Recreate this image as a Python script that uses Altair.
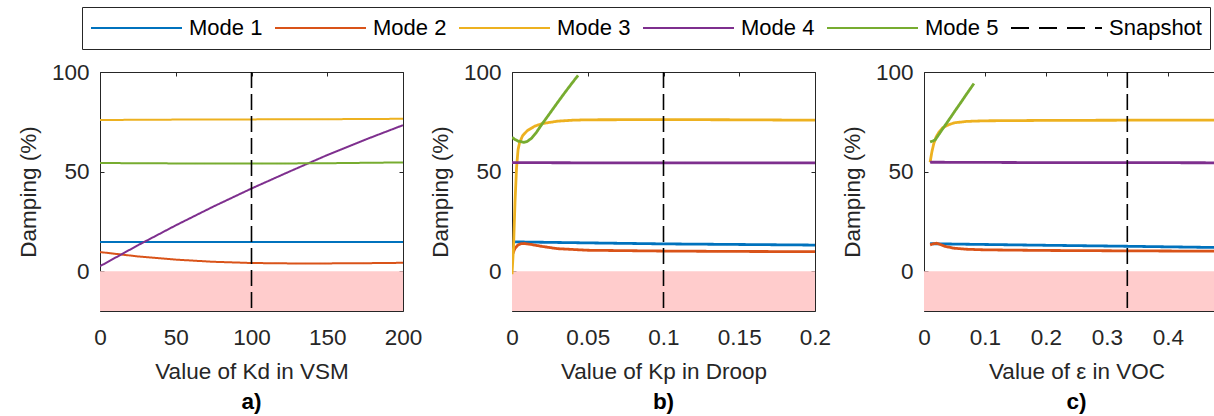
import altair as alt
import pandas as pd

SERIES = ["Mode 1", "Mode 2", "Mode 3", "Mode 4", "Mode 5", "Snapshot"]
COLORS = ["#0072BD", "#D95319", "#EDB120", "#7E2F8E", "#77AC30", "#000000"]
DASHES = [[1, 0], [1, 0], [1, 0], [1, 0], [1, 0], [18, 10]]

Y_DOMAIN = [-20, 100]
Y_TICKS = [0, 50, 100]
Y_TITLE = "Damping (%)"

# ---- panel a: Kd in VSM ----
A_TITLE = "Value of Kd in VSM"
A_LABEL = "a)"
A_DOMAIN = [0, 200]
A_TICKS = [0, 50, 100, 150, 200]
A_SNAPSHOT = 100
A_X = [0, 25, 50, 75, 100, 125, 150, 175, 200]
A_MODE1 = [14.6, 14.6, 14.6, 14.6, 14.6, 14.6, 14.6, 14.6, 14.6]
A_MODE2 = [9.6, 7.4, 5.8, 4.7, 4.1, 3.9, 3.9, 4.0, 4.2]
A_MODE3 = [75.9, 76.0, 76.1, 76.2, 76.2, 76.3, 76.3, 76.4, 76.5]
A_MODE4 = [2.5, 13.0, 23.0, 32.5, 41.5, 50.0, 58.3, 66.0, 73.3]
A_MODE5 = [54.3, 54.2, 54.1, 54.0, 54.0, 54.1, 54.2, 54.4, 54.6]

# ---- panel b: Kp in Droop ----
B_TITLE = "Value of Kp in Droop"
B_LABEL = "b)"
B_DOMAIN = [0, 0.2]
B_TICKS = [0, 0.05, 0.1, 0.15, 0.2]
B_SNAPSHOT = 0.1
B_MODE1_X = [0.002, 0.05, 0.1, 0.15, 0.2]
B_MODE1 = [14.7, 14.2, 13.7, 13.4, 13.1]
B_MODE2_X = [0, 0.002, 0.004, 0.006, 0.008, 0.012, 0.02, 0.03, 0.05, 0.1, 0.15, 0.2]
B_MODE2 = [7.8, 11.5, 13.2, 13.8, 13.9, 13.5, 12.4, 11.3, 10.5, 10.1, 9.9, 9.8]
B_MODE3_X = [0, 0.001, 0.002, 0.003, 0.004, 0.005, 0.007, 0.01, 0.015, 0.02, 0.03, 0.04, 0.05, 0.1, 0.15, 0.2]
B_MODE3 = [-1.5, 12.0, 35.0, 52.0, 61.0, 64.5, 68.0, 70.5, 72.8, 74.1, 75.3, 75.8, 76.0, 76.1, 76.0, 75.8]
B_MODE4_X = [0, 0.05, 0.1, 0.15, 0.2]
B_MODE4 = [54.5, 54.4, 54.4, 54.4, 54.4]
B_MODE5_X = [0, 0.002, 0.004, 0.0077, 0.01, 0.013, 0.016, 0.0194, 0.025, 0.03, 0.035, 0.04, 0.0436]
B_MODE5 = [67.2, 66.1, 65.3, 64.7, 65.1, 66.8, 69.6, 73.4, 79.3, 84.6, 89.8, 94.8, 98.3]

# ---- panel c: epsilon in VOC ----
C_TITLE = "Value of ε in VOC"
C_LABEL = "c)"
C_DOMAIN = [0, 0.5]
C_TICKS = [0, 0.1, 0.2, 0.3, 0.4]
C_SNAPSHOT = 0.3333
C_MODE1_X = [0.01, 0.05, 0.1, 0.2, 0.3333, 0.5]
C_MODE1 = [13.8, 13.6, 13.4, 13.0, 12.5, 11.8]
C_MODE2_X = [0.01, 0.015, 0.02, 0.025, 0.035, 0.05, 0.07, 0.1, 0.2, 0.3333, 0.5]
C_MODE2 = [13.2, 13.7, 14.0, 13.6, 12.4, 11.5, 11.0, 10.7, 10.4, 10.2, 10.0]
C_MODE3_X = [0.01, 0.013, 0.016, 0.02, 0.025, 0.03, 0.04, 0.05, 0.07, 0.1, 0.2, 0.3333, 0.5]
C_MODE3 = [54.7, 60.0, 64.0, 67.5, 70.0, 71.8, 73.5, 74.5, 75.2, 75.5, 75.7, 75.8, 75.8]
C_MODE4_X = [0.01, 0.1, 0.2, 0.3333, 0.5]
C_MODE4 = [54.7, 54.6, 54.5, 54.5, 54.4]
C_MODE5_X = [0.01, 0.014, 0.0182, 0.025, 0.03, 0.04, 0.05, 0.06, 0.07, 0.0818]
C_MODE5 = [64.9, 65.3, 65.9, 68.9, 71.2, 75.6, 80.1, 84.5, 89.0, 94.2]

FONT = "Liberation Sans"
TXT = "#262626"
SHADE = "#FFCCCC"
FS = 22.5


def long_table(xs_list, ys_list):
    rows = []
    for name, xs, ys in zip(SERIES[:5], xs_list, ys_list):
        for x, y in zip(xs, ys):
            rows.append({"series": name, "x": x, "y": y})
    return pd.DataFrame(rows)


LEGEND = alt.Legend(
    title=None, orient="none", legendX=-18, legendY=-65, direction="horizontal",
    symbolType="stroke", symbolSize=8281, symbolStrokeWidth=2, clipHeight=26,
    labelFontSize=22, labelFont=FONT, labelColor="#000000", labelOffset=6,
    columnPadding=11, padding=8, strokeColor="#262626", fillColor="#FFFFFF",
)


def panel(df, snap, domain, ticks, xtitle, label, fmt, width, lw):
    x_scale = alt.Scale(domain=domain, nice=False, zero=False)
    y_scale = alt.Scale(domain=Y_DOMAIN, nice=False, zero=False)
    color = alt.Color("series:N", scale=alt.Scale(domain=SERIES, range=COLORS), legend=LEGEND)
    dash = alt.StrokeDash("series:N", scale=alt.Scale(domain=SERIES, range=DASHES), legend=LEGEND)

    bottom = alt.Axis(values=ticks, format=fmt, offset=-4, tickSize=4, domain=False, grid=False,
                      tickColor=TXT, labelColor=TXT, labelFontSize=FS, labelPadding=15,
                      labelFlush=False, labelOverlap=False, title=xtitle, titleFontSize=FS,
                      titleFontWeight="normal", titleColor=TXT, titlePadding=12)
    left = alt.Axis(values=Y_TICKS, offset=-4, tickSize=4, domain=False, grid=False,
                    tickColor=TXT, labelColor=TXT, labelFontSize=FS, labelPadding=11,
                    labelFlush=False, labelOverlap=False, title=Y_TITLE, titleFontSize=FS,
                    titleFontWeight="normal", titleColor=TXT, titlePadding=11)
    top = alt.Axis(orient="top", values=ticks, offset=-4, tickSize=4, domain=False, grid=False,
                   tickColor=TXT, labels=False, title=None)
    right = alt.Axis(orient="right", values=Y_TICKS, offset=-4, tickSize=4, domain=False,
                     grid=False, tickColor=TXT, labels=False, title=None)

    shade_df = pd.DataFrame({"x": [domain[0]], "x2": [domain[1]],
                             "y": [0], "y2": [Y_DOMAIN[0]]})
    shade = alt.Chart(shade_df).mark_rect(color=SHADE, opacity=1).encode(
        x=alt.X("x:Q", scale=x_scale, axis=bottom),
        x2="x2:Q",
        y=alt.Y("y:Q", scale=y_scale, axis=left),
        y2="y2:Q",
    )
    lines = alt.Chart(df).mark_line(strokeWidth=lw, clip=True).encode(
        x=alt.X("x:Q", scale=x_scale, axis=top),
        y=alt.Y("y:Q", scale=y_scale, axis=right),
        color=color,
        strokeDash=dash,
    )
    snap_df = pd.DataFrame({"x": [snap], "series": ["Snapshot"]})
    rule = alt.Chart(snap_df).mark_rule(strokeWidth=1.6, strokeDash=[16, 6]).encode(
        x=alt.X("x:Q", scale=x_scale, axis=None),
        color=color,
    )
    return alt.layer(shade, lines, rule).resolve_axis(
        x="independent", y="independent"
    ).properties(
        width=width, height=239,
        title=alt.TitleParams(label, orient="bottom", fontSize=FS, fontWeight="bold",
                              color="#000000", offset=8, frame="group", anchor="middle"),
    )


df_a = long_table([A_X] * 5, [A_MODE1, A_MODE2, A_MODE3, A_MODE4, A_MODE5])
df_b = long_table([B_MODE1_X, B_MODE2_X, B_MODE3_X, B_MODE4_X, B_MODE5_X],
                  [B_MODE1, B_MODE2, B_MODE3, B_MODE4, B_MODE5])
df_c = long_table([C_MODE1_X, C_MODE2_X, C_MODE3_X, C_MODE4_X, C_MODE5_X],
                  [C_MODE1, C_MODE2, C_MODE3, C_MODE4, C_MODE5])

pa = panel(df_a, A_SNAPSHOT, A_DOMAIN, A_TICKS, A_TITLE, A_LABEL, "d", 303, 2)
pb = panel(df_b, B_SNAPSHOT, B_DOMAIN, B_TICKS, B_TITLE, B_LABEL, ".2~f", 303, 2.8)
pc = panel(df_c, C_SNAPSHOT, C_DOMAIN, C_TICKS, C_TITLE, C_LABEL, ".1~f", 305, 2.8)

chart = alt.hconcat(pa, pb, pc, spacing=109, bounds="flush").properties(
    autosize=alt.AutoSizeParams(type="none"),
    padding={"left": 100, "top": 72, "right": 1114, "bottom": 344},
    background="#FFFFFF",
).configure(font=FONT).configure_view(stroke=TXT, strokeWidth=1)

chart.save("out.html", embed_options={"renderer": "svg", "actions": False})
